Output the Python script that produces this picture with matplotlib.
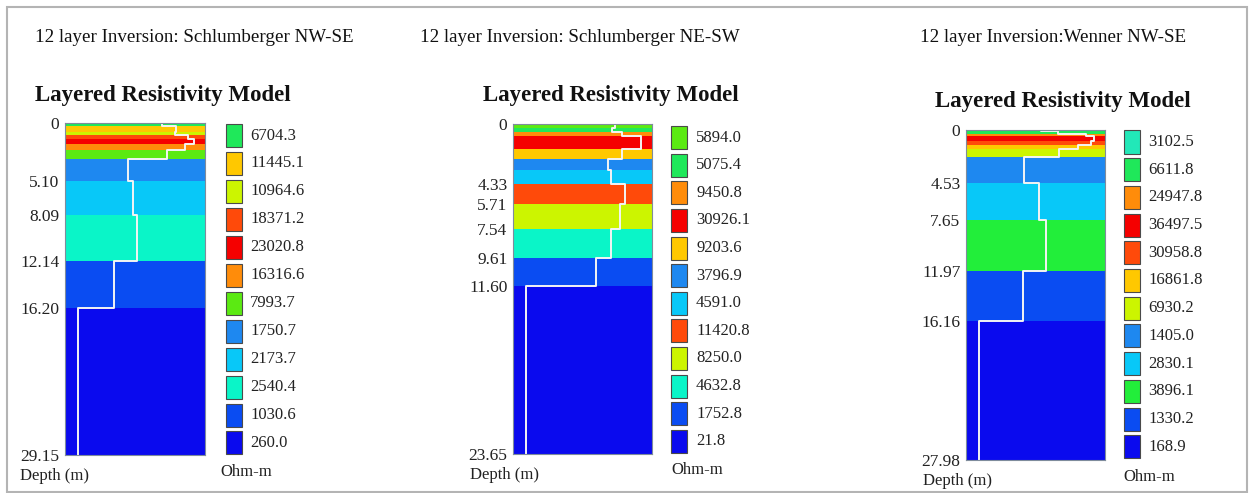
import numpy as np
import matplotlib.pyplot as plt
from matplotlib.patches import Rectangle

W, H = 1253, 493
plt.rcParams['font.family'] = ['Liberation Serif', 'DejaVu Serif']

# colours used for the layers
palette = {
    'lime': '#5BEA12',
    'green': '#1FE85A',
    'green2': '#22EE3A',
    'turq': '#22E8B8',
    'gold': '#FFC800',
    'yellowgreen': '#CCF500',
    'redorange': '#FF4A0A',
    'red': '#F50000',
    'orange': '#FF8C0A',
    'blue': '#1E88F0',
    'cyan': '#08C8F8',
    'aqua': '#0AF5C8',
    'midblue': '#0A4CF2',
    'darkblue': '#0A0AEE',
}

# --- panel 1: Schlumberger NW-SE
rho1 = [6704.3, 11445.1, 10964.6, 18371.2, 23020.8, 16316.6, 7993.7,
        1750.7, 2173.7, 2540.4, 1030.6, 260.0]
bnd1 = [0.3, 0.8, 1.05, 1.4, 1.85, 2.4, 3.2, 5.10, 8.09, 12.14, 16.20]
bottom1 = 29.15
ticks1 = [0, 5.10, 8.09, 12.14, 16.20, 29.15]
col1 = ['green', 'gold', 'yellowgreen', 'redorange', 'red', 'orange', 'lime',
        'blue', 'cyan', 'aqua', 'midblue', 'darkblue']

# --- panel 2: Schlumberger NE-SW
rho2 = [5894.0, 5075.4, 9450.8, 30926.1, 9203.6, 3796.9, 4591.0,
        11420.8, 8250.0, 4632.8, 1752.8, 21.8]
bnd2 = [0.3, 0.55, 0.85, 1.77, 2.49, 3.28, 4.33, 5.71, 7.54, 9.61, 11.60]
bottom2 = 23.65
ticks2 = [0, 4.33, 5.71, 7.54, 9.61, 11.60, 23.65]
col2 = ['lime', 'green', 'orange', 'red', 'gold', 'blue', 'cyan',
        'redorange', 'yellowgreen', 'aqua', 'midblue', 'darkblue']

# --- panel 3: Wenner NW-SE
rho3 = [3102.5, 6611.8, 24947.8, 36497.5, 30958.8, 16861.8, 6930.2,
        1405.0, 2830.1, 3896.1, 1330.2, 168.9]
bnd3 = [0.12, 0.3, 0.55, 0.9, 1.25, 1.65, 2.26, 4.53, 7.65, 11.97, 16.16]
bottom3 = 27.98
ticks3 = [0, 4.53, 7.65, 11.97, 16.16, 27.98]
col3 = ['turq', 'green', 'orange', 'red', 'redorange', 'gold', 'yellowgreen',
        'blue', 'cyan', 'green2', 'midblue', 'darkblue']

titles = ['12 layer Inversion: Schlumberger NW-SE',
          '12 layer Inversion: Schlumberger NE-SW',
          '12 layer Inversion:Wenner NW-SE']


def fx(x):
    return x / W


def fy(y):
    return 1 - y / H


fig = plt.figure(figsize=(W / 100, H / 100), dpi=100)
fig.patch.set_facecolor('white')
fig.add_artist(Rectangle((fx(7), fy(492)), 1240 / W, 485 / H, transform=fig.transFigure,
                         fill=False, ec='#b4b4b4', lw=1.5))

# pixel layout: column (l, t, r, b), title xs/ys, legend
layout = [
    dict(col=(65, 123, 205, 455), sub=(35, 38), model=(35, 95), depth=(20, 476),
         ohm=(220, 472), box=226, txt=250, ly0=135.5, dly=27.95),
    dict(col=(513, 124, 652, 454), sub=(420, 38), model=(483, 96), depth=(470, 475),
         ohm=(671, 470), box=671, txt=696, ly0=137.7, dly=27.6),
    dict(col=(966, 130, 1105, 460), sub=(920, 38), model=(935, 101), depth=(923, 481),
         ohm=(1123, 477), box=1124, txt=1148, ly0=142, dly=27.7),
]

data = [(rho1, bnd1, bottom1, ticks1, col1),
        (rho2, bnd2, bottom2, ticks2, col2),
        (rho3, bnd3, bottom3, ticks3, col3)]

for (rho, bnd, bottom, ticks, cols), lay, title in zip(data, layout, titles):
    l, t, r, b = lay['col']
    ax = fig.add_axes([fx(l), fy(b), (r - l) / W, (b - t) / H])
    edges = [0] + bnd + [bottom]
    for i, c in enumerate(cols):
        ax.axhspan(edges[i], edges[i + 1], color=palette[c], lw=0)

    # resistivity step curve on a log scale
    xs = np.repeat(rho, 2)
    ys = np.repeat(edges, 2)[1:-1]
    ax.plot(xs, ys, color='#f4f4f4', lw=1.4)
    lo, hi = np.log10(min(rho)), np.log10(max(rho))
    span = hi - lo
    ax.set_xscale('log')
    ax.set_xlim(10 ** (lo - 0.115 * span), 10 ** (hi + 0.095 * span))
    ax.set_ylim(bottom, 0)
    ax.tick_params(axis='x', which='both', bottom=False, labelbottom=False)
    ax.set_yticks(ticks)
    ax.set_yticklabels(['0' if v == 0 else f'{v:.2f}' for v in ticks])
    ax.tick_params(axis='y', which='both', length=0, pad=4, labelsize=12.5, colors='#222222')
    for s in ax.spines.values():
        s.set_color('#7f8c9c')
        s.set_linewidth(0.8)

    fig.text(fx(lay['sub'][0]), fy(lay['sub'][1]), title, fontsize=13.7, va='center', color='#111111')
    fig.text(fx(lay['model'][0]), fy(lay['model'][1]), 'Layered Resistivity Model',
             fontsize=16.5, fontweight='bold', va='center', color='#111111')
    fig.text(fx(lay['depth'][0]), fy(lay['depth'][1]), 'Depth (m)', fontsize=12,
             va='center', color='#222222')
    fig.text(fx(lay['ohm'][0]), fy(lay['ohm'][1]), 'Ohm-m', fontsize=12,
             va='center', color='#222222')

    # legend boxes
    for i, (c, v) in enumerate(zip(cols, rho)):
        yc = lay['ly0'] + i * lay['dly']
        fig.add_artist(Rectangle((fx(lay['box']), fy(yc + 11.5)), 16 / W, 23 / H,
                                 transform=fig.transFigure, fc=palette[c],
                                 ec='#4a4a4a', lw=0.8))
        fig.text(fx(lay['txt']), fy(yc), f'{v:.1f}', fontsize=12, va='center',
                 color='#222222')

plt.savefig('out.png', dpi=100)
